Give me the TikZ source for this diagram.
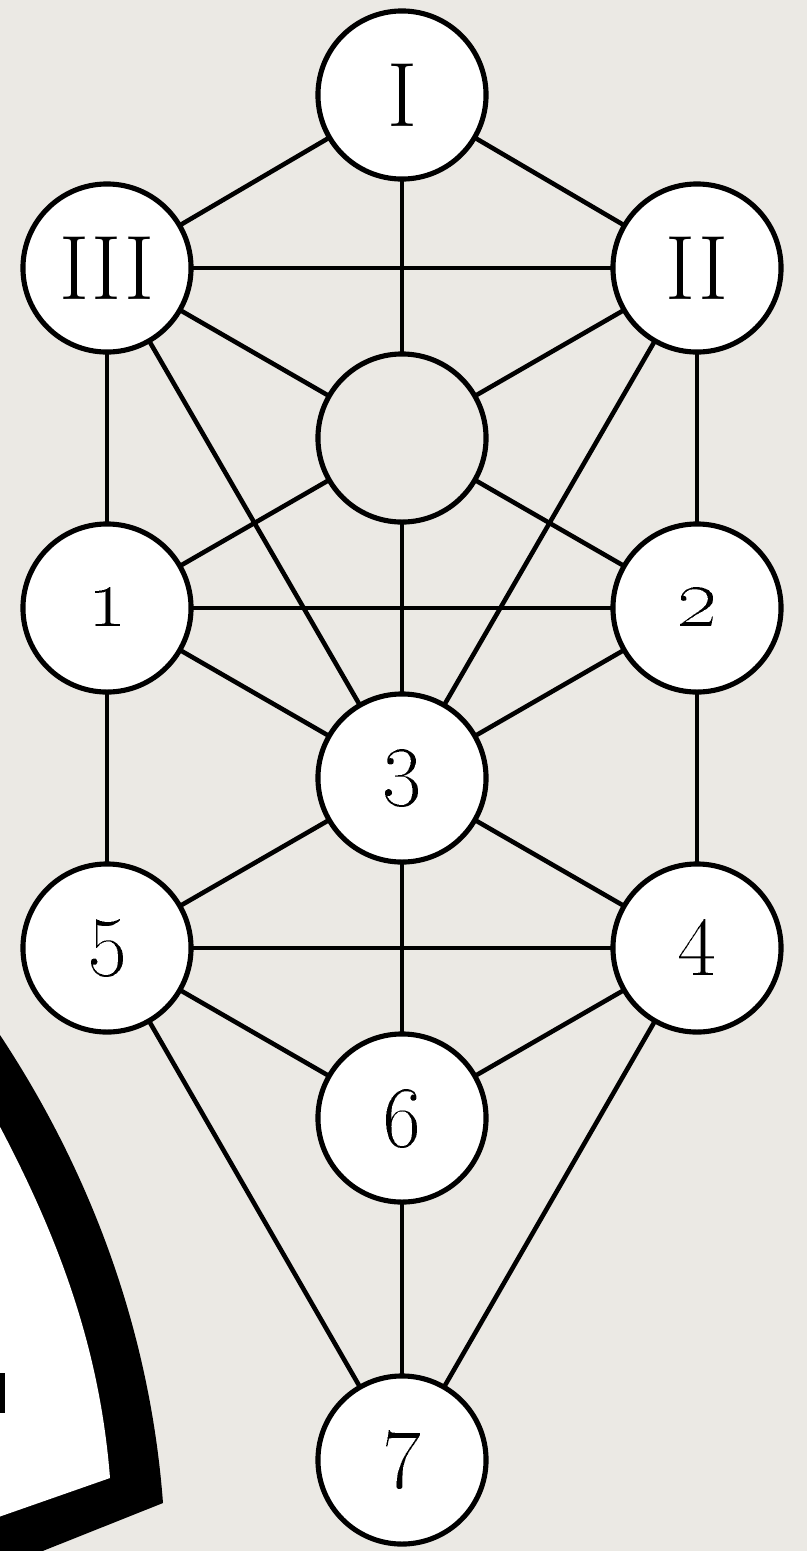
\documentclass[tikz,border=0pt]{standalone}

\definecolor{paper}{RGB}{235,233,228}

\begin{document}
\begin{tikzpicture}[
    x=0.01cm,
    y=-0.01cm,
    line join=round,
    line cap=round,
    sephira/.style={
        draw,
        circle,
        line width=1.45pt,
        fill=white,
        minimum size=1.68cm,
        inner sep=0pt,
        font=\fontsize{26}{30}\selectfont
    },
    hollow/.style={sephira, fill=none},
    link/.style={line width=1.3pt},
    stroke/.style={fill=black}
]

% =========================
% Paper
% =========================
\fill[paper] (0,0) rectangle (807,1551);
\useasboundingbox (0,0) rectangle (807,1551);

% =========================
% Brush mark, bottom left
% =========================
\begin{scope}
    \clip (0,0) rectangle (807,1551);
    \fill[stroke] (-2,1032) .. controls (90,1170) and (150,1330) .. (163,1503)
        -- (-10,1572) -- (-10,1032) -- cycle;
    \fill[white] (-2,1123) .. controls (60,1240) and (100,1350) .. (110,1478)
        -- (-10,1520) -- (-10,1123) -- cycle;
    \fill[stroke] (-5,1373) rectangle (5,1413);
\end{scope}

% =========================
% Nodes
% =========================
\node[sephira] (I) at (402,95) {I};

\node[sephira] (III) at (107,268) {III};
\node[sephira] (II) at (697,268) {II};

\node[hollow] (hidden) at (402,438) {};

\node[sephira] (n1) at (107,608) {\oldstylenums{1}};
\node[sephira] (n2) at (697,608) {\oldstylenums{2}};

\node[sephira] (n3) at (402,778) {\oldstylenums{3}};

\node[sephira] (n5) at (107,948) {\oldstylenums{5}};
\node[sephira] (n4) at (697,948) {\oldstylenums{4}};

\node[sephira] (n6) at (402,1118) {\oldstylenums{6}};

\node[sephira] (n7) at (402,1460) {\oldstylenums{7}};

% =========================
% Upper triangle
% =========================
\draw[link] (I) -- (III);
\draw[link] (I) -- (II);
\draw[link] (I) -- (hidden);
\draw[link] (III) -- (II);
\draw[link] (III) -- (hidden);
\draw[link] (II) -- (hidden);

% =========================
% Middle paths
% =========================
\draw[link] (III) -- (n1);
\draw[link] (II) -- (n2);
\draw[link] (III) -- (n3);
\draw[link] (II) -- (n3);
\draw[link] (hidden) -- (n1);
\draw[link] (hidden) -- (n2);
\draw[link] (hidden) -- (n3);
\draw[link] (n1) -- (n2);
\draw[link] (n1) -- (n3);
\draw[link] (n2) -- (n3);

% =========================
% Lower paths
% =========================
\draw[link] (n1) -- (n5);
\draw[link] (n2) -- (n4);
\draw[link] (n3) -- (n5);
\draw[link] (n3) -- (n4);
\draw[link] (n3) -- (n6);
\draw[link] (n5) -- (n4);
\draw[link] (n5) -- (n6);
\draw[link] (n4) -- (n6);
\draw[link] (n5) -- (n7);
\draw[link] (n4) -- (n7);
\draw[link] (n6) -- (n7);

\end{tikzpicture}
\end{document}
